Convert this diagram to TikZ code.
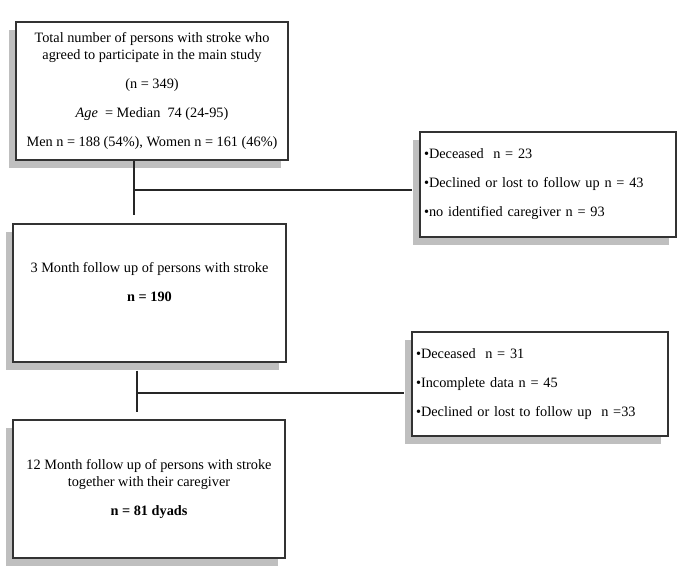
\documentclass[tikz,border=0pt]{standalone}
\usepackage{fontspec}
\setmainfont{Liberation Serif}
\usetikzlibrary{positioning,shadows,calc}
\tikzset{
  panel/.style={draw=black!80, line width=1.1pt, fill=white, align=center,
              inner sep=3pt, font=\fontsize{14.3}{17}\selectfont,
              drop shadow={shadow xshift=-7pt, shadow yshift=-8pt, fill=black!25, opacity=1}},
  sidepanel/.style={panel, align=left, text width=248pt, minimum width=256pt},
  link/.style={line width=1.1pt, black!85},
}

\begin{document}
\begin{tikzpicture}[x=1pt,y=-1pt]
    \useasboundingbox (0,0) rectangle (685,577);
    % main column
    \node[panel, minimum width=272pt, minimum height=138pt] (total) at (152,91)
      {Total number of persons with stroke who\\agreed to participate in the main study\\[12pt]
       (n = 349)\\[12pt]\textit{Age}\ \ = Median\ \ 74 (24-95)\\[12pt]
       Men n = 188 (54\%), Women n = 161 (46\%)};
    \node[panel, minimum width=273pt, minimum height=138pt] (month3) at (149.5,293) {};
    \node[align=center, font=\fontsize{14.3}{17}\selectfont] (month3txt) at ([yshift=11pt]month3.center)
      {3 Month follow up of persons with stroke\\[12pt]\textbf{n = 190}};
    \node[panel, minimum width=272pt, minimum height=138pt] (month12) at (149,489)
      {12 Month follow up of persons with stroke\\together with their caregiver\\[12pt]
       \textbf{n = 81 dyads}};
    % drop-outs
    \node[sidepanel, minimum height=105pt] (loss1) at (548,184.5)
      {\textbullet Deceased\ \ n = 23\\[12pt]\textbullet Declined or lost to follow up n = 43\\[12pt]
       \textbullet no identified caregiver n = 93};
    \node[sidepanel, minimum height=104pt] (loss2) at (540,384)
      {\textbullet Deceased\ \ n = 31\\[12pt]\textbullet Incomplete data n = 45\\[12pt]
       \textbullet Declined or lost to follow up\ \ n =33};
    % connectors
    \coordinate (j1) at (134,190);
    \coordinate (j2) at (137,393);
    \draw[link, shorten >=8pt] (j1 |- total.south) -- (j1 |- month3.north);
    \draw[link] (j1) -- ([xshift=-7pt]j1 -| loss1.west);
    \draw[link, shorten <=8pt, shorten >=7pt] (j2 |- month3.south) -- (j2 |- month12.north);
    \draw[link] (j2) -- ([xshift=-7pt]j2 -| loss2.west);
\end{tikzpicture}
\end{document}
